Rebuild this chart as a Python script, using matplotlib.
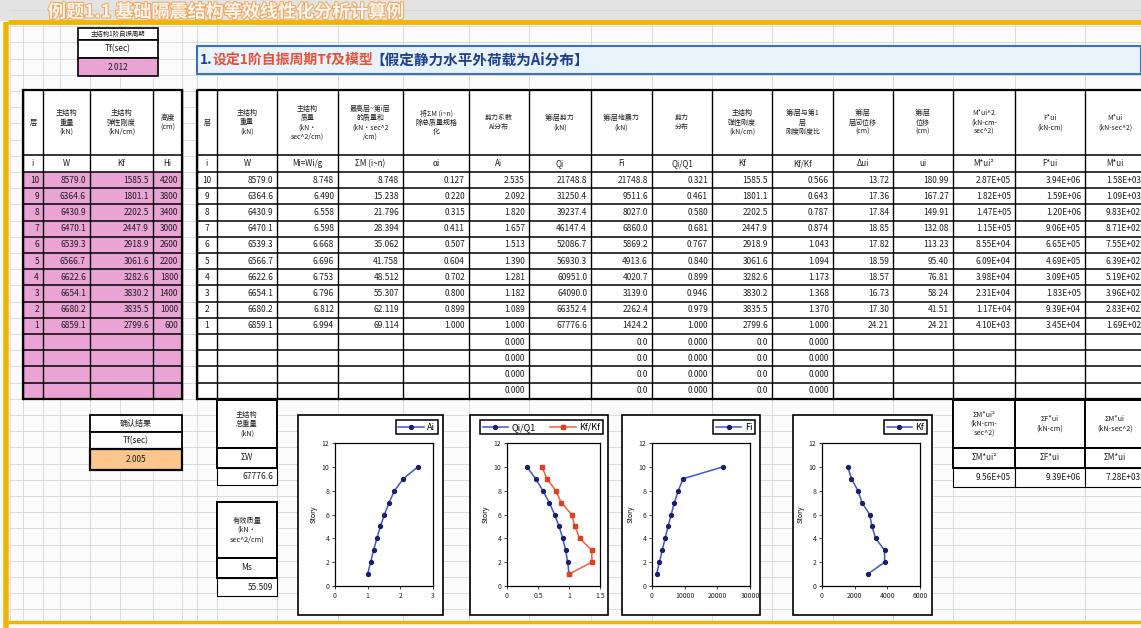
import matplotlib
matplotlib.use('Agg')
import matplotlib.pyplot as plt
import matplotlib.patheffects as pe
from matplotlib.patches import Rectangle

plt.rcParams['font.family'] = ['Noto Sans CJK SC', 'DejaVu Sans']

# ---- data read from the sheet ----
story = [10, 9, 8, 7, 6, 5, 4, 3, 2, 1]
W = [8579.0, 6364.6, 6430.9, 6470.1, 6539.3, 6566.7, 6622.6, 6654.1, 6680.2, 6859.1]
Kf = [1585.5, 1801.1, 2202.5, 2447.9, 2918.9, 3061.6, 3282.6, 3830.2, 3835.5, 2799.6]
H = [4200, 3800, 3400, 3000, 2600, 2200, 1800, 1400, 1000, 600]
Mi = [8.748, 6.490, 6.558, 6.598, 6.668, 6.696, 6.753, 6.796, 6.812, 6.994]
sumM = [8.748, 15.238, 21.796, 28.394, 35.062, 41.758, 48.512, 55.307, 62.119, 69.114]
alpha = [0.127, 0.220, 0.315, 0.411, 0.507, 0.604, 0.702, 0.800, 0.899, 1.000]
Ai = [2.535, 2.092, 1.820, 1.657, 1.513, 1.390, 1.281, 1.182, 1.089, 1.000]
Qi = [21748.8, 31250.4, 39237.4, 46147.4, 52086.7, 56930.3, 60951.0, 64090.0, 66352.4, 67776.6]
Fi = [21748.8, 9511.6, 8027.0, 6860.0, 5869.2, 4913.6, 4020.7, 3139.0, 2262.4, 1424.2]
QQ1 = [0.321, 0.461, 0.580, 0.681, 0.767, 0.840, 0.899, 0.946, 0.979, 1.000]
KK1 = [0.566, 0.643, 0.787, 0.874, 1.043, 1.094, 1.173, 1.368, 1.370, 1.000]
dui = [13.72, 17.36, 17.84, 18.85, 17.82, 18.59, 18.57, 16.73, 17.30, 24.21]
ui = [180.99, 167.27, 149.91, 132.08, 113.23, 95.40, 76.81, 58.24, 41.51, 24.21]
Mu2 = [2.87e5, 1.82e5, 1.47e5, 1.15e5, 8.55e4, 6.09e4, 3.98e4, 2.31e4, 1.17e4, 4.10e3]
Fu = [3.94e6, 1.59e6, 1.20e6, 9.06e5, 6.65e5, 4.69e5, 3.09e5, 1.83e5, 9.39e4, 3.45e4]
Mu = [1.58e3, 1.09e3, 9.83e2, 8.71e2, 7.55e2, 6.39e2, 5.19e2, 3.96e2, 2.83e2, 1.69e2]
sums = ['9.56E+05', '9.39E+06', '7.28E+03']
Tf_in = '2.012'
Tf_out = '2.005'
sumW = '67776.6'
Ms = '55.509'

hdr_left = ['层', '主结构\n重量\n(kN)', '主结构\n弹性刚度\n(kN/cm)', '高度\n(cm)']
lab_left = ['i', 'W', 'Kf', 'Hi']
hdr_main = ['层', '主结构\n重量\n(kN)', '主结构\n质量\n(kN·\nsec^2/cm)',
            '最高层~第i层\n的质量和\n(kN·sec^2\n/cm)', '将ΣM (i~n)\n除总质量规格\n化',
            '剪力系数\nAi分布', '第i层剪力\n(kN)', '第i层地震力\n(kN)', '剪力\n分布',
            '主结构\n弹性刚度\n(kN/cm)', '第i层与第1\n层\n刚度刚度比', '第i层\n层间位移\n(cm)',
            '第i层\n位移\n(cm)', 'M*ui^2\n(kN-cm-\nsec^2)', 'F*ui\n(kN-cm)', 'M*ui\n(kN-sec^2)']
lab_main = ['i', 'W', 'Mi=Wi/g', 'ΣM (i~n)', 'αi', 'Ai', 'Qi', 'Fi', 'Qi/Q1', 'Kf', 'Kf/Kf',
            'Δui', 'ui', 'M*ui²', 'F*ui', 'M*ui']

# ---- page layout (pixels) ----
PW, PH = 1141, 628
fig = plt.figure(figsize=(PW / 100, PH / 100), dpi=100)
bg = fig.add_axes([0, 0, 1, 1])
bg.set_xlim(0, PW)
bg.set_ylim(PH, 0)
bg.axis('off')

lc = [23, 43, 90, 153, 182]
mc = [197, 217, 277, 338, 403, 469, 529, 591, 652, 712, 772, 833, 893, 953, 1015, 1085, 1145]
y_hdr, y_lab, y_dat = 90, 155, 172
rh = 16.2
n_rows = 14
y_end = y_dat + n_rows * rh


def rect(x0, y0, x1, y1, fc='none', ec='black', lw=0.8, z=2):
    bg.add_patch(Rectangle((x0, y0), x1 - x0, y1 - y0, facecolor=fc, edgecolor=ec, lw=lw, zorder=z))


def txt(x0, x1, y0, y1, s, ha='center', size=6.0, color='#1e1e1e', **kw):
    if ha == 'right':
        x = x1 - 4
    elif ha == 'left':
        x = x0 + 3
    else:
        x = (x0 + x1) / 2
    bg.text(x, (y0 + y1) / 2, s, ha=ha, va='center', fontsize=size, color=color, zorder=5,
            linespacing=1.2, **kw)


# background, grid
rect(0, 0, PW, PH, fc='#fbfbfb', ec='none', z=0)
rect(0, 0, PW, 21, fc='#e3e3e3', ec='none', z=0)
grid_x = sorted(set(lc + mc + [10, 60, 120]))
for gx in grid_x:
    bg.plot([gx, gx], [24, 620], color='#d6d6d6', lw=0.6, zorder=1)
gy = y_dat
while gy > 24:
    gy -= rh
ys = []
while gy < 620:
    ys.append(gy)
    gy += rh
for yy in ys:
    bg.plot([10, PW], [yy, yy], color='#d6d6d6', lw=0.6, zorder=1)

# yellow page frame
bg.plot([8, PW], [22, 22], color='#f1b500', lw=3.5, zorder=6, solid_capstyle='butt')
bg.plot([6, 6], [22, PH], color='#f1b500', lw=4, zorder=6, solid_capstyle='butt')
bg.plot([8, PW], [622, 622], color='#f1b500', lw=2.5, zorder=6, solid_capstyle='butt')
bg.text(48, 12, '例题1.1 基础隔震结构等效线性化分析计算例', fontsize=13, color='white',
        fontweight='bold', va='center', ha='left', zorder=7, alpha=0.9,
        path_effects=[pe.withStroke(linewidth=1.5, foreground='#f3a050')])

# top-left period box
rect(78, 28, 158, 40, fc='white', lw=1.2)
txt(78, 158, 28, 40, '主结构1阶自振周期', size=4.6)
rect(78, 40, 158, 58, fc='white', lw=1.2)
txt(78, 158, 40, 58, 'Tf(sec)', size=6.0)
rect(78, 58, 158, 76, fc='#e9a3d4', lw=1.2)
txt(78, 158, 58, 76, Tf_in, size=6.0)

# title bar
rect(197, 46, 1141, 74, fc='#e9f3fb', ec='#3b73b9', lw=1.5)
bg.text(200, 60, '1.', fontsize=10, color='#1f3f8f', fontweight='bold', va='center', zorder=5)
bg.text(213, 60, '设定1阶自振周期Tf及模型', fontsize=10, color='#e8503a', fontweight='bold',
        va='center', zorder=5)
bg.text(370, 60, '【假定静力水平外荷载为Ai分布】', fontsize=10.5, color='#1f3f8f',
        fontweight='bold', va='center', zorder=5)

# left input table
rect(lc[0], y_dat, lc[-1], y_end, fc='#e9a3d4', ec='none', z=1.5)
rect(lc[0], y_hdr, lc[-1], y_lab, fc='white', ec='none', z=1.5)
rect(lc[0], y_lab, lc[-1], y_dat, fc='white', ec='none', z=1.5)
left_cols = [[str(s) for s in story], [f'{v:.1f}' for v in W], [f'{v:.1f}' for v in Kf],
             [str(v) for v in H]]
for j in range(4):
    txt(lc[j], lc[j + 1], y_hdr, y_lab, hdr_left[j], size=5.2)
    txt(lc[j], lc[j + 1], y_lab, y_dat, lab_left[j], size=5.8)
    for i, s in enumerate(left_cols[j]):
        txt(lc[j], lc[j + 1], y_dat + i * rh, y_dat + (i + 1) * rh, s, ha='right')
for x in lc:
    bg.plot([x, x], [y_hdr, y_end], color='black', lw=1.0, zorder=3)
for yy in [y_hdr, y_lab, y_dat] + [y_dat + k * rh for k in range(1, n_rows + 1)]:
    bg.plot([lc[0], lc[-1]], [yy, yy], color='black', lw=1.1, zorder=3)
rect(lc[0], y_hdr, lc[-1], y_end, lw=1.6, z=3)

# main table
rect(mc[0], y_hdr, mc[-1], y_end, fc='white', ec='none', z=1.5)
sci = lambda v: f'{v:.2E}'
main_cols = [[str(s) for s in story], [f'{v:.1f}' for v in W], [f'{v:.3f}' for v in Mi],
             [f'{v:.3f}' for v in sumM], [f'{v:.3f}' for v in alpha], [f'{v:.3f}' for v in Ai],
             [f'{v:.1f}' for v in Qi], [f'{v:.1f}' for v in Fi], [f'{v:.3f}' for v in QQ1],
             [f'{v:.1f}' for v in Kf], [f'{v:.3f}' for v in KK1], [f'{v:.2f}' for v in dui],
             [f'{v:.2f}' for v in ui], [sci(v) for v in Mu2], [sci(v) for v in Fu],
             [sci(v) for v in Mu]]
empty_vals = {5: '0.000', 7: '0.0', 8: '0.000', 9: '0.0', 10: '0.000'}
for j in range(16):
    txt(mc[j], mc[j + 1], y_hdr, y_lab, hdr_main[j], size=5.0)
    txt(mc[j], mc[j + 1], y_lab, y_dat, lab_main[j], size=5.8)
    for i, s in enumerate(main_cols[j]):
        txt(mc[j], mc[j + 1], y_dat + i * rh, y_dat + (i + 1) * rh, s,
            ha='center' if j == 0 else 'right')
    if j in empty_vals:
        for i in range(10, n_rows):
            txt(mc[j], mc[j + 1], y_dat + i * rh, y_dat + (i + 1) * rh, empty_vals[j], ha='right')
for x in mc:
    bg.plot([x, x], [y_hdr, y_end], color='black', lw=1.0, zorder=3)
for yy in [y_hdr, y_lab, y_dat] + [y_dat + k * rh for k in range(1, n_rows + 1)]:
    bg.plot([mc[0], mc[-1]], [yy, yy], color='black', lw=1.1, zorder=3)
rect(mc[0], y_hdr, mc[-1], y_end, lw=1.6, z=3)

# result period box
rect(90, 415, 182, 432, fc='white', lw=1.3)
txt(90, 182, 415, 432, '确认结果', size=5.8)
rect(90, 432, 182, 449, fc='white', lw=1.3)
txt(90, 182, 432, 449, 'Tf(sec)', size=6.0)
rect(90, 449, 182, 470, fc='#fbc58c', lw=1.6)
txt(90, 182, 449, 470, Tf_out, size=6.0)

# total weight / effective mass boxes
rect(217, 400, 277, 448, fc='white', lw=1.4)
txt(217, 277, 400, 448, '主结构\n总重量\n(kN)', size=5.2)
rect(217, 448, 277, 468, fc='white', lw=1.4)
txt(217, 277, 448, 468, 'ΣW', size=6.0)
rect(217, 468, 277, 485, fc='white', lw=0.8)
txt(217, 277, 468, 485, sumW, ha='right')
rect(217, 502, 277, 558, fc='white', lw=1.4)
txt(217, 277, 502, 558, '有效质量\n(kN·\nsec^2/cm)', size=5.2)
rect(217, 558, 277, 578, fc='white', lw=1.4)
txt(217, 277, 558, 578, 'Ms', size=6.0)
rect(217, 578, 277, 596, fc='white', lw=0.8)
txt(217, 277, 578, 596, Ms, ha='right')

# summary table
sx = [953, 1015, 1085, 1145]
sum_hdr = ['ΣM*ui²\n(kN-cm-\nsec^2)', 'ΣF*ui\n(kN-cm)', 'ΣM*ui\n(kN-sec^2)']
sum_lab = ['ΣM*ui²', 'ΣF*ui', 'ΣM*ui']
for j in range(3):
    rect(sx[j], 400, sx[j + 1], 448, fc='white', lw=1.4)
    txt(sx[j], sx[j + 1], 400, 448, sum_hdr[j], size=5.2)
    rect(sx[j], 448, sx[j + 1], 468, fc='white', lw=1.4)
    txt(sx[j], sx[j + 1], 448, 468, sum_lab[j], size=5.8)
    rect(sx[j], 468, sx[j + 1], 487, fc='white', lw=0.8)
    txt(sx[j], sx[j + 1], 468, 487, sums[j], ha='right')

# ---- charts ----
BLUE_L, BLUE_M = '#4157c8', '#1d1d6b'
RED_L, RED_M = '#f2603f', '#e0401e'


def chart(frame, area, series, xlim, xticks, xtl, ncol=1):
    fx0, fy0, fx1, fy1 = frame
    rect(fx0, fy0, fx1, fy1, fc='white', lw=1.2, z=2)
    ax0, ay0, ax1, ay1 = area
    ax = fig.add_axes([ax0 / PW, 1 - ay1 / PH, (ax1 - ax0) / PW, (ay1 - ay0) / PH])
    for xs, lab, lc_, mc_, mk in series:
        ax.plot(xs, story, '-', marker=mk, color=lc_, mfc=mc_, mec=mc_, ms=2.8, lw=1.1, label=lab)
    ax.set_xlim(*xlim)
    ax.set_ylim(0, 12)
    ax.set_xticks(xticks)
    ax.set_xticklabels(xtl)
    ax.set_yticks(range(0, 13, 2))
    ax.tick_params(labelsize=5.0, length=2, width=0.6, pad=2, colors='#222222')
    ax.set_ylabel('Story', fontsize=5.0, labelpad=3)
    for sp in ax.spines.values():
        sp.set_linewidth(0.9)
    leg = ax.legend(loc='upper right', bbox_to_anchor=((fx1 - 5) / PW, 1 - (fy0 + 5) / PH),
                    bbox_transform=fig.transFigure, fontsize=6.5, ncol=ncol, fancybox=False,
                    framealpha=1, edgecolor='black', handlelength=2.8, borderpad=0.3,
                    columnspacing=1.6, handletextpad=0.4, borderaxespad=0)
    leg.get_frame().set_linewidth(1.1)
    return ax


chart((298, 415, 443, 615), (335, 443, 433, 586), [(Ai, 'Ai', BLUE_L, BLUE_M, 'o')],
      (0, 3), [0, 1, 2, 3], ['0', '1', '2', '3'])
chart((470, 415, 608, 615), (507, 443, 600, 586),
      [(QQ1, 'Qi/Q1', BLUE_L, BLUE_M, 'o'), (KK1, 'Kf/Kf', RED_L, RED_M, 's')],
      (0, 1.5), [0, 0.5, 1, 1.5], ['0', '0.5', '1', '1.5'], ncol=2)
chart((622, 415, 760, 615), (652, 443, 750, 586), [(Fi, 'Fi', BLUE_L, BLUE_M, 'o')],
      (0, 30000), [0, 10000, 20000, 30000], ['0', '10000', '20000', '30000'])
chart((793, 415, 932, 615), (822, 443, 920, 586), [(Kf, 'Kf', BLUE_L, BLUE_M, 'o')],
      (0, 6000), [0, 2000, 4000, 6000], ['0', '2000', '4000', '6000'])

fig.savefig('out.png', dpi=100)
